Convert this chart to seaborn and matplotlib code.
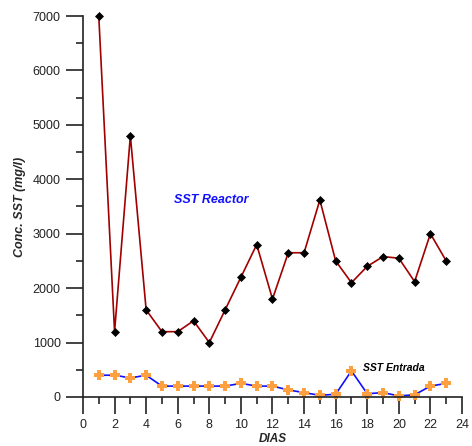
import matplotlib
matplotlib.use("Agg")
import matplotlib.pyplot as plt
from matplotlib.ticker import MultipleLocator
import seaborn as sns
import pandas as pd

dias = list(range(1, 24))
sst_reactor = [7000, 1200, 4800, 1600, 1200, 1200, 1400, 1000, 1600, 2200, 2800,
               1800, 2650, 2650, 3620, 2500, 2100, 2400, 2580, 2550, 2120, 3000, 2500]
sst_entrada = [400, 400, 350, 400, 200, 200, 200, 200, 200, 250, 200,
               200, 130, 80, 30, 50, 480, 60, 80, 20, 40, 200, 250]

sns.set_theme(style="ticks")
plt.rcParams["font.family"] = ["Liberation Sans", "DejaVu Sans"]

df = pd.DataFrame({"dia": dias, "reactor": sst_reactor, "entrada": sst_entrada})

fig = plt.figure(figsize=(4.72, 4.46), dpi=100)
ax = fig.add_axes([0.1758, 0.1099, 0.8030, 0.8542])

sns.lineplot(data=df, x="dia", y="reactor", ax=ax, color="#a00000", lw=1.2,
             marker="D", markersize=4.5, markerfacecolor="black",
             markeredgecolor="black", markeredgewidth=0.5, clip_on=False)
sns.lineplot(data=df, x="dia", y="entrada", ax=ax, color="#1010ff", lw=1.2,
             marker="P", markersize=6.5, markerfacecolor="#ffa040",
             markeredgecolor="#ffa040", markeredgewidth=0, clip_on=False)

ax.set_xlim(0, 24)
ax.set_ylim(0, 7000)
ax.xaxis.set_major_locator(MultipleLocator(2))
ax.xaxis.set_minor_locator(MultipleLocator(1))
ax.yaxis.set_major_locator(MultipleLocator(1000))
ax.yaxis.set_minor_locator(MultipleLocator(500))
ax.tick_params(which="major", length=12, width=1.2, direction="out",
               labelsize=9, colors="#222222")
ax.tick_params(which="minor", length=5, width=1.2, direction="out")
ax.tick_params(axis="x", pad=4)
ax.tick_params(axis="y", pad=4)
for side in ("top", "right"):
    ax.spines[side].set_visible(False)
for side in ("left", "bottom"):
    ax.spines[side].set_linewidth(1.2)
    ax.spines[side].set_color("#222222")

ax.set_xlabel("DIAS", fontsize=8.5, fontweight="bold", fontstyle="italic", labelpad=1)
ax.set_ylabel("Conc. SST (mg/l)", fontsize=9, fontweight="bold",
              fontstyle="italic", labelpad=5)

ax.text(8.1, 3620, "SST Reactor", color="#1010ff", fontsize=9,
        fontweight="bold", fontstyle="italic", ha="center", va="center")
ax.text(17.7, 530, "SST Entrada", color="black", fontsize=7.5,
        fontweight="bold", fontstyle="italic", ha="left", va="center")

fig.savefig("out.png", dpi=100)
